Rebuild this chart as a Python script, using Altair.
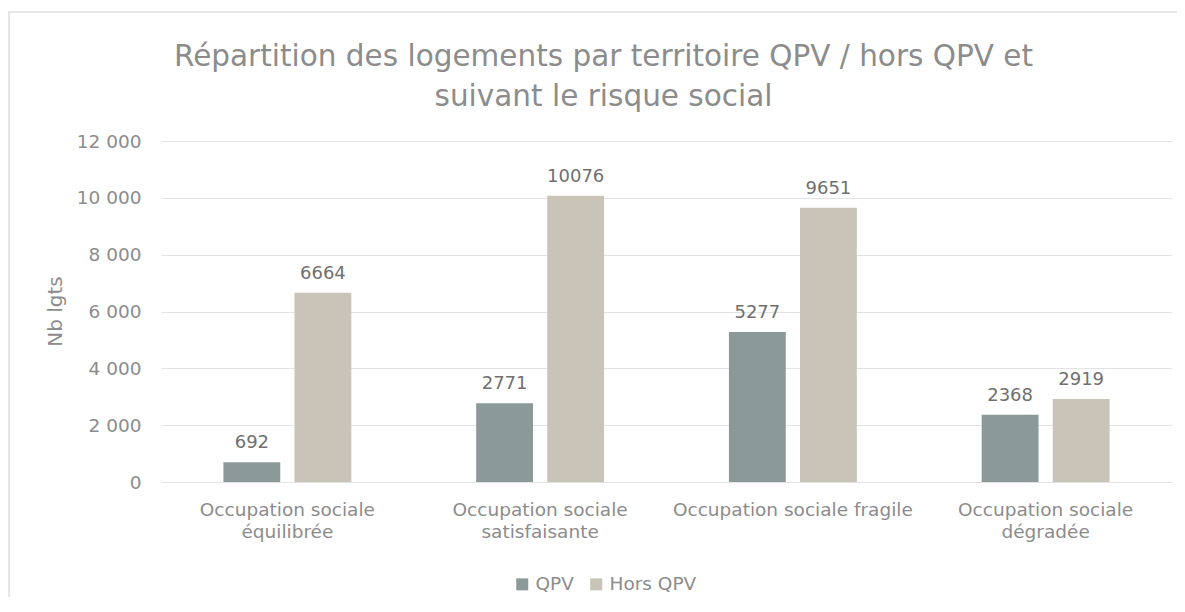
import altair as alt
import pandas as pd

categories = [
    "Occupation sociale|équilibrée",
    "Occupation sociale|satisfaisante",
    "Occupation sociale fragile",
    "Occupation sociale|dégradée",
]
series = ["QPV", "Hors QPV"]
qpv = [692, 2771, 5277, 2368]
hors_qpv = [6664, 10076, 9651, 2919]
y_ticks = [0, 2000, 4000, 6000, 8000, 10000, 12000]
colors = ["#8B9A99", "#C9C3B8"]

rows = []
for c, a, b in zip(categories, qpv, hors_qpv):
    rows.append({"cat": c, "serie": series[0], "val": a})
    rows.append({"cat": c, "serie": series[1], "val": b})
df = pd.DataFrame(rows)

FONT = "DejaVu Sans"
GRAY = "#8C8C8C"
W, H = 1011, 341

x = alt.X(
    "cat:N",
    sort=categories,
    title=None,
    scale=alt.Scale(paddingInner=0.494, paddingOuter=0.247),
    axis=alt.Axis(
        labelExpr="split(datum.label, '|')",
        labelAngle=0,
        labelFontSize=18.5,
        labelColor=GRAY,
        labelPadding=18,
        labelLineHeight=22,
        labelLimit=0,
        domain=False,
        ticks=False,
    ),
)
xo = alt.XOffset("serie:N", sort=series, scale=alt.Scale(paddingInner=0.2))
y = alt.Y(
    "val:Q",
    scale=alt.Scale(domain=[0, 12000]),
    axis=alt.Axis(
        values=y_ticks,
        labelExpr="replace(format(datum.value, ','), ',', ' ')",
        labelFontSize=18.5,
        labelColor=GRAY,
        labelPadding=20,
        domain=False,
        ticks=False,
        grid=True,
        gridColor="#E3E3E3",
        title="Nb lgts",
        titleFontSize=20,
        titleFontWeight="normal",
        titleColor=GRAY,
        titleX=-106,
        titleY=170,
        titleAngle=-90,
        titleAlign="center",
        titleBaseline="middle",
    ),
)

bars = alt.Chart(df).mark_bar().encode(
    x=x,
    xOffset=xo,
    y=y,
    color=alt.Color(
        "serie:N",
        sort=series,
        scale=alt.Scale(domain=series, range=colors),
        legend=alt.Legend(
            orient="none",
            legendX=352,
            legendY=434,
            direction="horizontal",
            title=None,
            symbolType="square",
            symbolSize=144,
            symbolStrokeWidth=0,
            labelFontSize=18.5,
            labelColor=GRAY,
            columnPadding=13,
        ),
    ),
)

labels = alt.Chart(df).mark_text(
    baseline="bottom", dy=-10, fontSize=18, color="#707070"
).encode(x=x, xOffset=xo, y=y, text="val:Q")

frame_df = pd.DataFrame({"k": [0]})
frame = alt.Chart(frame_df).mark_rect(
    fill="transparent", stroke="#E6E6E6", strokeWidth=2
).encode(
    x=alt.value(-152), x2=alt.value(1100), y=alt.value(-129), y2=alt.value(700)
)

chart = (
    alt.layer(frame, bars, labels)
    .properties(
        width=W,
        height=H,
        autosize=alt.AutoSizeParams(type="none"),
        padding={"left": 153, "top": 133, "right": 5, "bottom": 115},
        title=alt.Title(
            ["Répartition des logements par territoire QPV / hors QPV et", "suivant le risque social"],
            fontSize=29.5,
            fontWeight="normal",
            color=GRAY,
            anchor="middle",
            frame="group",
            dx=-63,
            offset=-101,
            lineHeight=40,
        ),
    )
    .configure(font=FONT)
    .configure_view(stroke=None)
)

chart.save("out.html", embed_options={"renderer": "svg", "actions": False})
